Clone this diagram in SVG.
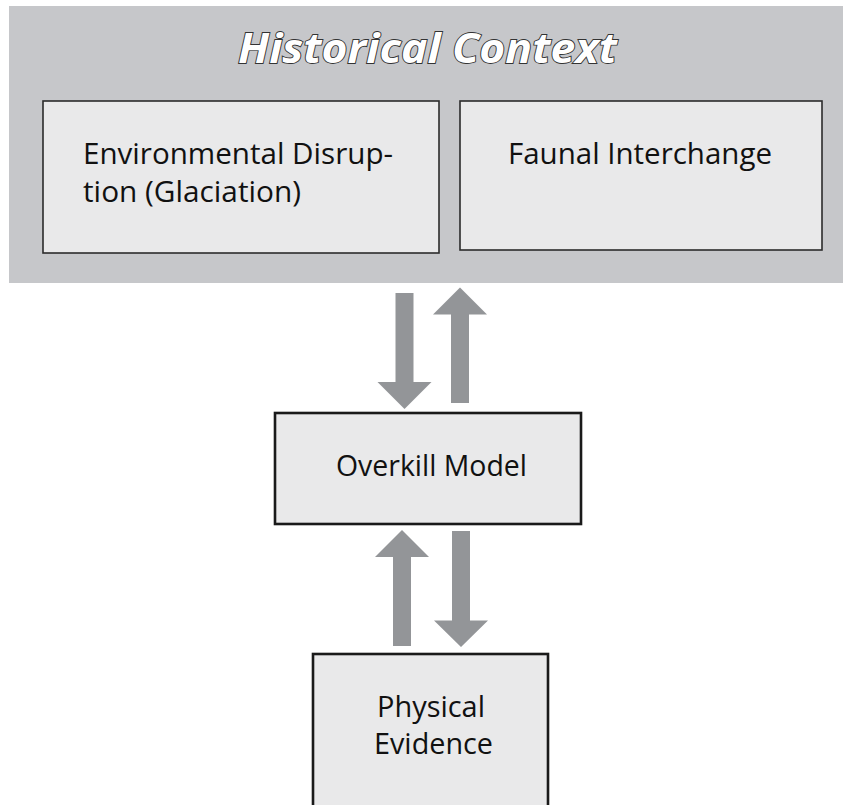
<svg xmlns="http://www.w3.org/2000/svg" width="843" height="805" viewBox="0 0 843 805">
  <style>
    .panel { fill: #c6c7ca; }
    .box { fill: #e9e9ea; stroke: #2b2b2b; stroke-width: 1.6; }
    .box-strong { fill: #e9e9ea; stroke: #1a1a1a; stroke-width: 2.6; }
    .label { font-family: "Open Sans", "Noto Sans", "Liberation Sans", sans-serif; font-size: 30px; fill: #111111; }
    .title { font-family: "Open Sans", "Noto Sans", "Liberation Sans", sans-serif; font-size: 42px; font-weight: 700; font-style: italic; fill: #ffffff; stroke: #333333; stroke-width: 1.8; paint-order: stroke; }
    .arrow { fill: #939598; }
  </style>
  <rect width="843" height="805" fill="#ffffff"/>

  <!-- Historical context panel with its two topics -->
  <g id="historical-context">
    <rect class="panel" x="9" y="6" width="834" height="277"/>
    <text class="title" x="238" y="63" textLength="379" lengthAdjust="spacingAndGlyphs">Historical Context</text>
  </g>

  <g id="environmental-disruption">
    <rect class="box" x="43" y="101" width="396" height="152"/>
    <text class="label" x="83" y="164" textLength="310" lengthAdjust="spacingAndGlyphs">Environmental Disrup-</text>
    <text class="label" x="83" y="202" textLength="218" lengthAdjust="spacingAndGlyphs">tion (Glaciation)</text>
  </g>

  <g id="faunal-interchange">
    <rect class="box" x="460" y="101" width="362" height="149"/>
    <text class="label" x="508" y="164" textLength="264" lengthAdjust="spacingAndGlyphs">Faunal Interchange</text>
  </g>

  <g id="overkill-model">
    <rect class="box-strong" x="275" y="413" width="306" height="111"/>
    <text class="label" x="336" y="476" textLength="191" lengthAdjust="spacingAndGlyphs">Overkill Model</text>
  </g>

  <g id="physical-evidence">
    <rect class="box-strong" x="313" y="654" width="235" height="170"/>
    <text class="label" x="377" y="717" textLength="108" lengthAdjust="spacingAndGlyphs">Physical</text>
    <text class="label" x="374" y="754" textLength="119" lengthAdjust="spacingAndGlyphs">Evidence</text>
  </g>

  <!-- Block arrows between the levels -->
  <g id="connectors">
    <!-- context down to model -->
    <polygon class="arrow" points="395.5,293 413.5,293 413.5,382 431.5,382 404.5,409 377.5,382 395.5,382"/>
    <!-- model up to context -->
    <polygon class="arrow" points="451,403 469,403 469,314.5 487,314.5 460,287.5 433,314.5 451,314.5"/>
    <!-- evidence up to model -->
    <polygon class="arrow" points="393,646 411,646 411,557 429,557 402,530 375,557 393,557"/>
    <!-- model down to evidence -->
    <polygon class="arrow" points="452,531 470,531 470,620.5 488,620.5 461,647 434,620.5 452,620.5"/>
  </g>
</svg>
